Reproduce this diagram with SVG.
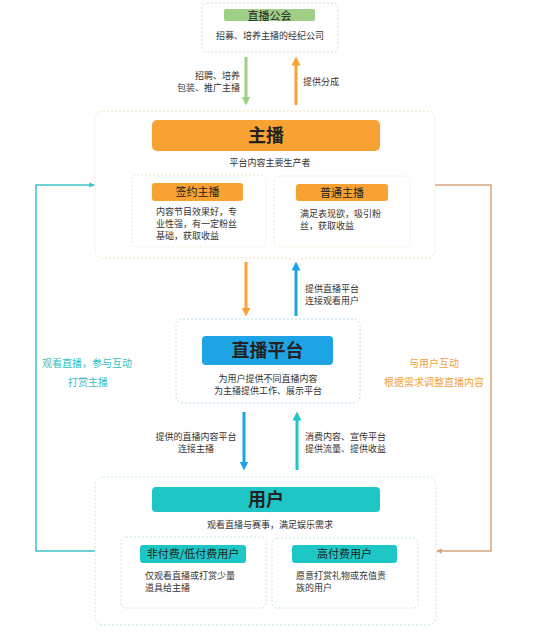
<svg xmlns="http://www.w3.org/2000/svg" width="540" height="638" viewBox="0 0 540 638">
<style>
text{font-family:"Noto Sans CJK SC","Noto Sans",sans-serif;fill:#333;}
.s{font-size:9px;}
.m{font-size:11px;fill:#222;}
.t{font-size:18px;font-weight:600;fill:#222;}
.lt{font-size:10px;fill:#2cc0c8;}
.lo{font-size:10px;fill:#f0a23c;}
.box{fill:#fff;stroke-width:1;stroke-dasharray:2 2;}
.c{text-anchor:middle;}
.r{text-anchor:end;}
</style>
<defs>
<marker id="ag" viewBox="0 0 10 10" refX="5" refY="5" markerWidth="3" markerHeight="3" orient="auto"><path d="M0,0L10,5L0,10z" fill="#9fcf87"/></marker>
<marker id="ao" viewBox="0 0 10 10" refX="5" refY="5" markerWidth="3" markerHeight="3" orient="auto"><path d="M0,0L10,5L0,10z" fill="#f7a233"/></marker>
<marker id="ab" viewBox="0 0 10 10" refX="5" refY="5" markerWidth="3" markerHeight="3" orient="auto"><path d="M0,0L10,5L0,10z" fill="#1ea4e4"/></marker>
<marker id="at" viewBox="0 0 10 10" refX="5" refY="5" markerWidth="3" markerHeight="3" orient="auto"><path d="M0,0L10,5L0,10z" fill="#1fc6c6"/></marker>
<marker id="at2" viewBox="0 0 10 10" refX="8" refY="5" markerWidth="4" markerHeight="4" orient="auto"><path d="M0,1L10,5L0,9z" fill="#3cc3c8"/></marker>
<marker id="ar2" viewBox="0 0 10 10" refX="8" refY="5" markerWidth="4" markerHeight="4" orient="auto"><path d="M0,1L10,5L0,9z" fill="#d9a27a"/></marker>
</defs>

<g id="connectors" fill="none">
<path d="M246,57V101" stroke="#9fcf87" stroke-width="3" marker-end="url(#ag)"/>
<path d="M296,105V61" stroke="#f7a233" stroke-width="3" marker-end="url(#ao)"/>
<path d="M246,262V312" stroke="#f7a233" stroke-width="3" marker-end="url(#ao)"/>
<path d="M296,316V266" stroke="#1ea4e4" stroke-width="3" marker-end="url(#ab)"/>
<path d="M244,412V466" stroke="#1ea4e4" stroke-width="3" marker-end="url(#ab)"/>
<path d="M297,470V416" stroke="#1fc6c6" stroke-width="3" marker-end="url(#at)"/>
<path d="M95,551H36V185H94" stroke="#3cc3c8" stroke-width="1.5" marker-end="url(#at2)"/>
<path d="M435,185H491V551H437" stroke="#d9a27a" stroke-width="1.5" marker-end="url(#ar2)"/>
<text class="s r" x="240" y="79">招聘、培养</text>
<text class="s r" x="240" y="91">包装、推广主播</text>
<text class="s" x="303" y="85">提供分成</text>
<text class="s" x="305" y="292">提供直播平台</text>
<text class="s" x="305" y="304">连接观看用户</text>
<text class="s c" x="196" y="440">提供的直播内容平台</text>
<text class="s c" x="196" y="452">连接主播</text>
<text class="s" x="305" y="440">消费内容、宣传平台</text>
<text class="s" x="305" y="452">提供流量、提供收益</text>
<text class="lt c" x="87" y="367">观看直播，参与互动</text>
<text class="lt c" x="88" y="386">打赏主播</text>
<text class="lo c" x="434" y="367">与用户互动</text>
<text class="lo c" x="434" y="386">根据需求调整直播内容</text>
</g>

<g id="guild">
<rect class="box" x="202" y="3" width="136" height="49" rx="5" stroke="#d8d8d8"/>
<rect x="224" y="9" width="91" height="12" rx="2" fill="#9fcf87"/>
<text class="m c" x="269.5" y="19.5">直播公会</text>
<text class="s c" x="270" y="39">招募、培养主播的经纪公司</text>
</g>

<g id="anchor">
<rect class="box" x="95" y="111" width="340" height="147" rx="8" stroke="#f6e2c0"/>
<rect x="152" y="120" width="228" height="31" rx="5" fill="#f7a233"/>
<text class="t c" x="266" y="142">主播</text>
<text class="s c" x="270" y="166">平台内容主要生产者</text>
<g id="signed">
<rect class="box" x="132" y="175" width="134" height="72" rx="5" stroke="#f2e6d0"/>
<rect x="152" y="183" width="91" height="18" rx="3" fill="#f7a233"/>
<text class="m c" x="197.5" y="196">签约主播</text>
<text class="s" x="156" y="215">内容节目效果好，专</text>
<text class="s" x="156" y="227">业性强，有一定粉丝</text>
<text class="s" x="156" y="239">基础，获取收益</text>
</g>
<g id="normal">
<rect class="box" x="274" y="176" width="136" height="71" rx="5" stroke="#f2e6d0"/>
<rect x="296" y="184" width="92" height="17" rx="3" fill="#f7a233"/>
<text class="m c" x="342" y="196.5">普通主播</text>
<text class="s" x="300" y="217">满足表现欲，吸引粉</text>
<text class="s" x="300" y="229">丝，获取收益</text>
</g>
</g>

<g id="platform">
<rect class="box" x="176" y="319" width="184" height="84" rx="7" stroke="#b8dcee"/>
<rect x="202" y="336" width="131" height="29" rx="4" fill="#1ea4e4"/>
<text class="t c" x="267.5" y="357">直播平台</text>
<text class="s c" x="268" y="382">为用户提供不同直播内容</text>
<text class="s c" x="268" y="394">为主播提供工作、展示平台</text>
</g>

<g id="user">
<rect class="box" x="95" y="477" width="341" height="148" rx="8" stroke="#bfe8ea"/>
<rect x="152" y="487" width="228" height="25" rx="4" fill="#1fc6c6"/>
<text class="t c" x="266" y="506">用户</text>
<text class="s c" x="270" y="528">观看直播与赛事，满足娱乐需求</text>
<g id="free">
<rect class="box" x="121" y="537" width="145" height="71" rx="5" stroke="#c4e8ea"/>
<rect x="140" y="545" width="106" height="18" rx="3" fill="#1fc6c6"/>
<text class="m c" x="193" y="558">非付费/低付费用户</text>
<text class="s" x="145" y="579">仅观看直播或打赏少量</text>
<text class="s" x="145" y="591">道具给主播</text>
</g>
<g id="paid">
<rect class="box" x="272" y="538" width="146" height="70" rx="5" stroke="#c4e8ea"/>
<rect x="292" y="545" width="105" height="18" rx="3" fill="#1fc6c6"/>
<text class="m c" x="344.5" y="558">高付费用户</text>
<text class="s" x="296" y="579">愿意打赏礼物或充值贵</text>
<text class="s" x="296" y="591">族的用户</text>
</g>
</g>
</svg>
